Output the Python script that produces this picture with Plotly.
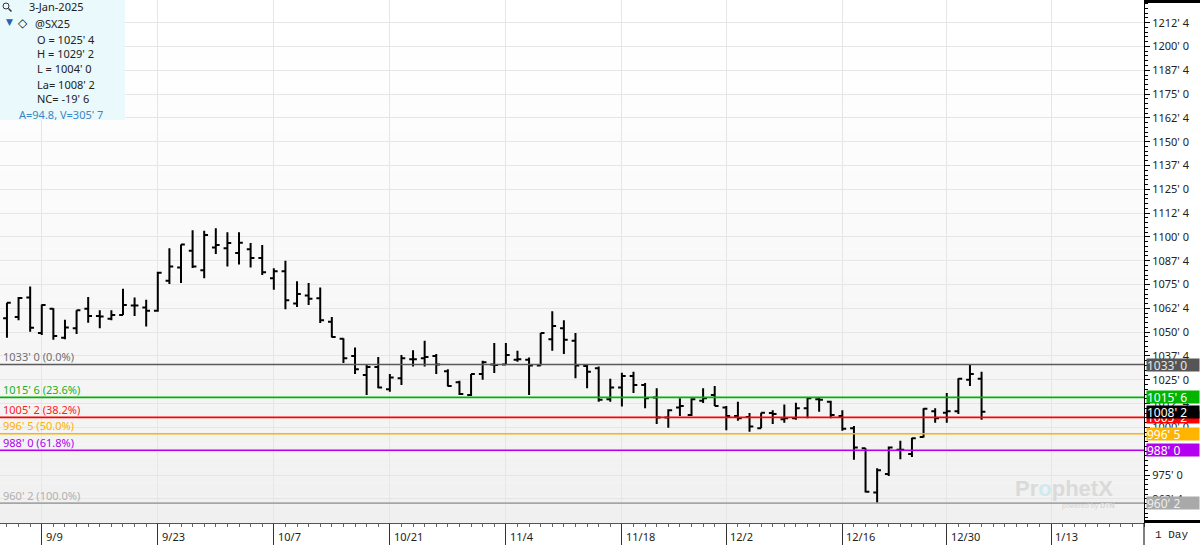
import pandas as pd
import plotly.graph_objects as go

# trading sessions, holidays taken out; the axis runs a little past the last bar
holidays = ["2024-11-28", "2024-12-25", "2025-01-01", "2025-01-20"]
sessions = [d.strftime("%Y-%m-%d") for d in pd.bdate_range("2024-09-04", "2025-01-24")
            if d.strftime("%Y-%m-%d") not in holidays]

# daily bars for @SX25 (Nov 2025 soybeans), cents
opens = [1057.25, 1058.0, 1068.25, 1049.5, 1062.25, 1047.0, 1052.0, 1062.25, 1058.5, 1057.0,
         1059.0, 1064.0, 1063.0, 1061.25, 1077.0, 1084.0, 1092.75, 1082.5, 1094.5, 1094.0,
         1091.5, 1093.5, 1089.0, 1078.25, 1082.0, 1065.0, 1069.25, 1067.75, 1055.5, 1046.5,
         1037.5, 1027.5, 1031.75, 1020.0, 1025.75, 1035.75, 1036.25, 1037.5, 1029.5, 1023.75,
         1017.0, 1028.0, 1033.0, 1033.0, 1035.5, 1035.5, 1032.5, 1046.25, 1052.0, 1045.5,
         1032.25, 1031.0, 1014.75, 1021.0, 1027.0, 1022.25, 1015.75, 1005.25, 1010.5, 1006.5,
         1014.0, 1017.0, 1010.5, 1006.0, 1005.5, 999.5, 1007.5, 1004.25, 1004.75, 1010.0,
         1014.75, 1013.5, 1006.0, 999.5, 989.0, 965.75, 975.5, 988.25, 986.0, 995.0,
         1008.5, 1007.75, 1008.5, 1025.0, 1025.5]
highs = [1065.5, 1068.5, 1074.0, 1064.5, 1062.5, 1056.5, 1061.5, 1068.5, 1061.5, 1061.5,
         1072.75, 1068.25, 1067.0, 1081.75, 1094.0, 1096.0, 1103.5, 1103.25, 1104.5, 1102.5,
         1102.5, 1096.75, 1095.75, 1083.5, 1087.5, 1076.75, 1075.75, 1073.5, 1058.0, 1046.75,
         1042.0, 1032.75, 1037.0, 1028.0, 1038.0, 1040.5, 1045.5, 1038.5, 1030.5, 1024.5,
         1028.0, 1035.0, 1044.25, 1044.25, 1040.25, 1036.75, 1049.5, 1061.0, 1056.25, 1049.5,
         1032.75, 1032.0, 1025.5, 1028.75, 1029.25, 1023.25, 1020.5, 1009.5, 1015.25, 1015.25,
         1020.5, 1021.75, 1011.25, 1013.5, 1007.5, 1007.75, 1009.0, 1012.0, 1013.0, 1015.75,
         1015.75, 1014.0, 1009.0, 1000.75, 989.0, 978.5, 990.0, 993.0, 994.5, 1010.0,
         1010.0, 1018.0, 1025.75, 1033.0, 1029.25]
lows = [1047.0, 1056.25, 1050.25, 1048.5, 1046.0, 1046.25, 1049.0, 1055.0, 1052.0, 1056.25,
        1059.0, 1058.5, 1053.0, 1060.75, 1075.25, 1075.75, 1083.75, 1078.25, 1091.0, 1084.5,
        1085.5, 1084.0, 1080.0, 1072.25, 1062.0, 1063.25, 1064.25, 1054.75, 1047.25, 1033.75,
        1028.0, 1017.0, 1020.5, 1018.75, 1022.25, 1032.0, 1032.0, 1028.0, 1021.5, 1017.0,
        1016.5, 1025.0, 1028.5, 1032.75, 1034.5, 1017.0, 1032.5, 1040.25, 1038.5, 1025.75,
        1020.5, 1013.5, 1013.5, 1011.0, 1018.0, 1010.0, 1001.75, 999.75, 1006.0, 1006.0,
        1012.75, 1011.25, 998.5, 1003.5, 997.75, 999.5, 1001.75, 1002.5, 1004.0, 1004.75,
        1008.25, 1004.75, 998.25, 983.0, 965.75, 960.25, 974.5, 983.25, 984.5, 994.75,
        1002.5, 1002.5, 1007.0, 1021.75, 1004.0]
closes = [1065.5, 1068.0, 1052.25, 1064.25, 1048.0, 1052.5, 1061.5, 1058.5, 1058.25, 1059.0,
          1064.25, 1064.0, 1061.25, 1081.25, 1084.5, 1096.0, 1084.5, 1101.0, 1095.75, 1096.75,
          1097.0, 1089.0, 1081.5, 1082.0, 1066.75, 1070.0, 1067.5, 1056.25, 1047.5, 1036.25,
          1030.5, 1031.75, 1021.0, 1026.25, 1036.25, 1035.75, 1037.0, 1033.0, 1021.75, 1017.5,
          1028.0, 1034.25, 1032.75, 1038.0, 1035.75, 1032.5, 1049.5, 1053.25, 1046.0, 1032.5,
          1029.25, 1014.5, 1021.0, 1027.0, 1022.25, 1015.25, 1005.25, 1009.0, 1011.25, 1014.75,
          1015.25, 1011.25, 1006.0, 1004.75, 1000.5, 1007.75, 1007.0, 1004.75, 1010.0, 1015.25,
          1014.5, 1006.5, 999.25, 989.5, 966.25, 977.5, 989.5, 988.25, 994.25, 1009.75,
          1004.75, 1008.5, 1025.5, 1028.0, 1008.25]

tick_dates = ["2024-09-09", "2024-09-23", "2024-10-07", "2024-10-21", "2024-11-04",
              "2024-11-18", "2024-12-02", "2024-12-16", "2024-12-30", "2025-01-13"]
tick_labels = ["9/9", "9/23", "10/7", "10/21", "11/4", "11/18", "12/2", "12/16", "12/30", "1/13"]

# fibonacci retracement, swing high 1033'0 -> swing low 960'2
fib_levels = [1033.0, 1015.75, 1005.25, 996.625, 988.0, 960.25]
fib_pcts = ["0.0%", "23.6%", "38.2%", "50.0%", "61.8%", "100.0%"]
fib_colors = ["#5a5a5a", "#00b400", "#ff0000", "#ffb400", "#b400f0", "#a6a6a6"]
fib_text = ["#707070", "#20b020", "#ff2020", "#ffb000", "#b000f0", "#b0b0b0"]

y_ticks = [962.5 + 12.5 * k for k in range(21)]

PLOT_W, PLOT_H = 1144, 523


def fmt(v):
    # cents and eighths, e.g. 1025.5 -> 1025' 4
    sign = "-" if v < 0 else ""
    v = abs(v)
    whole = int(v)
    return f"{sign}{whole}' {int(round((v - whole) * 8))}"


def px(x):
    return x / PLOT_W


def py(y):
    return 1 - y / PLOT_H


x_idx = list(range(len(opens)))
tick_idx = [sessions.index(d) for d in tick_dates]

fig = go.Figure()
fig.add_trace(go.Ohlc(
    x=x_idx, open=opens, high=highs, low=lows, close=closes,
    increasing=dict(line=dict(color="black", width=2)),
    decreasing=dict(line=dict(color="black", width=2)),
    tickwidth=0.33, showlegend=False, hoverinfo="skip",
))

shapes = []
# soft white-to-grey background
n_bands = 40
for k in range(n_bands):
    t = (k + 0.5) / n_bands
    g = round(255 - 15 * t ** 1.3)
    shapes.append(dict(type="rect", xref="paper", yref="paper", x0=0, x1=1,
                       y0=1 - (k + 1) / n_bands, y1=1 - k / n_bands,
                       fillcolor=f"rgb({g},{g},{g})", line=dict(width=0), layer="below"))

for lvl, col in zip(fib_levels, fib_colors):
    shapes.append(dict(type="line", xref="paper", yref="y", x0=0, x1=1, y0=lvl, y1=lvl,
                       line=dict(color=col, width=1.6)))

# info box top-left
shapes.append(dict(type="rect", xref="paper", yref="paper", x0=0, x1=px(125),
                   y0=py(120), y1=1, fillcolor="#e9f9fc", line=dict(width=0), layer="above"))
shapes.append(dict(type="circle", xref="paper", yref="paper", x0=px(3), x1=px(9),
                   y0=py(9), y1=py(3), line=dict(color="#333", width=1), layer="above"))
shapes.append(dict(type="line", xref="paper", yref="paper", x0=px(8.5), x1=px(11.5),
                   y0=py(8.5), y1=py(11.5), line=dict(color="#333", width=1.5), layer="above"))

# right-hand frame pieces
shapes.append(dict(type="rect", xref="paper", yref="paper", x0=1, x1=1200 / PLOT_W,
                   y0=py(3), y1=1, fillcolor="black", line=dict(width=0)))
shapes.append(dict(type="rect", xref="paper", yref="paper", x0=1, x1=1200 / PLOT_W,
                   y0=py(523), y1=py(520), fillcolor="black", line=dict(width=0)))
shapes.append(dict(type="line", xref="paper", yref="paper", x0=1, x1=1,
                   y0=py(545), y1=0, line=dict(color="black", width=1)))

ann = []
base_font = "Noto Sans, DejaVu Sans, sans-serif"

for lvl, pct, col in zip(fib_levels, fib_pcts, fib_text):
    ann.append(dict(x=0, xref="paper", y=lvl, yref="y", text=f"{fmt(lvl)} ({pct})",
                    showarrow=False, xanchor="left", yanchor="middle", xshift=1, yshift=8,
                    font=dict(size=11, color=col, family=base_font)))

# price boxes on the right axis, last price drawn over the 38.2% one
boxes = [(fib_levels[0], "#555555", "#e6e6e6"),
         (fib_levels[1], "#00b400", "white"),
         (fib_levels[2], "#ff0000", "white"),
         (closes[-1], "black", "white"),
         (fib_levels[3], "#ffb400", "white"),
         (fib_levels[4], "#b400f0", "white"),
         (fib_levels[5], "#a9a9a9", "#eeeeee")]
for lvl, bg, fc in boxes:
    ann.append(dict(x=1, xref="paper", y=lvl, yref="y", text=fmt(lvl), showarrow=False,
                    xanchor="left", yanchor="middle", xshift=2, width=52, height=12,
                    align="left", bgcolor=bg, borderpad=0,
                    font=dict(size=12, color=fc, family=base_font)))

for i, lab in zip(tick_idx, tick_labels):
    ann.append(dict(x=i, xref="x", y=py(536), yref="paper", text=lab, showarrow=False,
                    xanchor="left", yanchor="middle", xshift=2,
                    font=dict(size=11, color="#222", family=base_font)))

ann.append(dict(x=px(1172), xref="paper", y=py(535), yref="paper", text="1 Day",
                showarrow=False, xanchor="center", yanchor="middle",
                font=dict(size=11, color="#222", family="Liberation Mono, DejaVu Sans Mono, monospace")))

# info box text
info = [(27, 7, "3-Jan-2025", "#222"),
        (33, 23, "@SX25", "#222"),
        (35, 39, f"O = {fmt(opens[-1])}", "#222"),
        (35, 54, f"H = {fmt(highs[-1])}", "#222"),
        (35, 69, f"L = {fmt(lows[-1])}", "#222"),
        (35, 84, f"La= {fmt(closes[-1])}", "#222"),
        (35, 99, f"NC= {fmt(closes[-1] - closes[-2])}", "#222"),
        (17, 114, "A=94.8, V=305' 7", "#3b86c6")]
for x0, y0, txt, col in info:
    ann.append(dict(x=px(x0), xref="paper", y=py(y0), yref="paper", text=txt, showarrow=False,
                    xanchor="left", yanchor="middle",
                    font=dict(size=11, color=col, family=base_font)))
ann.append(dict(x=px(4), xref="paper", y=py(22), yref="paper", text="▼", showarrow=False,
                xanchor="left", yanchor="middle", font=dict(size=9, color="#2b5fb3", family="DejaVu Sans")))
ann.append(dict(x=px(16), xref="paper", y=py(23), yref="paper", text="◇", showarrow=False,
                xanchor="left", yanchor="middle", font=dict(size=12, color="#111", family="DejaVu Sans")))

# watermark
ann.append(dict(x=px(1064), xref="paper", y=py(488), yref="paper",
                text="<b>Pr<span style='color:#cfe9ee'>o</span>phetX</b>", showarrow=False,
                xanchor="center", yanchor="middle",
                font=dict(size=22, color="#dadada", family="Liberation Sans, Arial, sans-serif")))
ann.append(dict(x=px(1088), xref="paper", y=py(506), yref="paper", text="powered by <b>DTN</b>",
                showarrow=False, xanchor="center", yanchor="middle",
                font=dict(size=7, color="#d6d6d6", family="Liberation Sans, Arial, sans-serif")))

fig.update_layout(
    width=1200, height=545,
    margin=dict(l=0, r=1200 - PLOT_W, t=0, b=545 - PLOT_H),
    paper_bgcolor="white", plot_bgcolor="rgba(0,0,0,0)",
    shapes=shapes, annotations=ann, showlegend=False,
    font=dict(family=base_font, size=11, color="#222"),
    xaxis=dict(range=[-0.6, 98.0], rangeslider=dict(visible=False),
               tickvals=tick_idx, showticklabels=False,
               ticks="outside", ticklen=22, tickcolor="#333", tickwidth=1,
               minor=dict(dtick=1, tick0=0, ticks="outside", ticklen=3, tickcolor="#666", showgrid=False),
               showgrid=True, gridcolor="#e6e6e6", gridwidth=1,
               showline=True, linecolor="#555", linewidth=1, zeroline=False, fixedrange=True),
    yaxis=dict(side="right", range=[949.8, 1224.4],
               tickvals=y_ticks, ticktext=[fmt(v) for v in y_ticks],
               ticks="outside", ticklen=5, tickcolor="black",
               minor=dict(dtick=2.5, tick0=962.5, ticks="outside", ticklen=3, tickcolor="black", showgrid=False),
               showgrid=True, gridcolor="#e6e6e6", gridwidth=1,
               showline=True, linecolor="black", linewidth=1, zeroline=False,
               tickfont=dict(size=11, color="#222")),
)

# the page's default body margin would push the chart 8px off the corner
fig.write_html("out.html", config={"displayModeBar": False},
               post_script="document.body.style.margin='0';")
